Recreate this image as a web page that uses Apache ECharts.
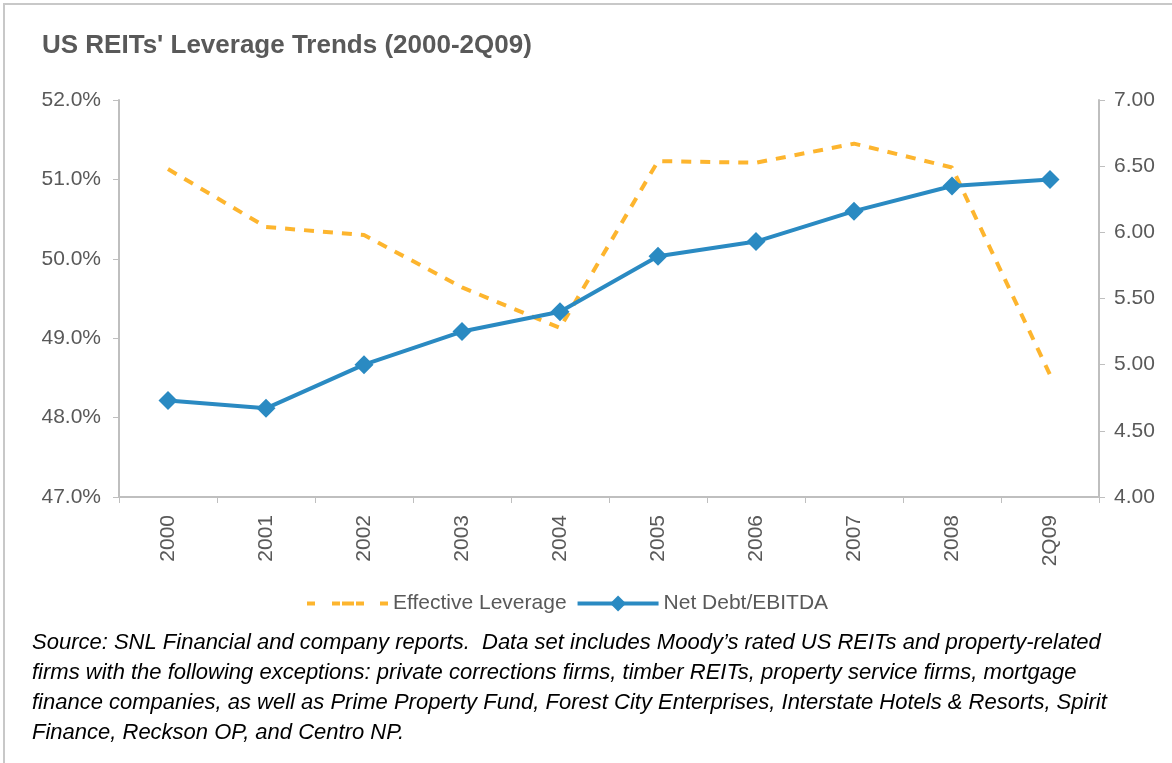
<!DOCTYPE html>
<html>
<head>
<meta charset="utf-8">
<script src="https://cdn.jsdelivr.net/npm/echarts@6/dist/echarts.min.js"></script>
<style>
  html, body { margin: 0; padding: 0; background: #fff; }
  #chart { width: 1172px; height: 763px; }
</style>
</head>
<body>
<div id="chart"></div>
<script>
// Data
const years = ['2000', '2001', '2002', '2003', '2004', '2005', '2006', '2007', '2008', '2Q09'];
const effectiveLeverage = [51.13, 50.40, 50.30, 49.64, 49.13, 51.23, 51.21, 51.45, 51.15, 48.54];
const netDebtEbitda = [4.73, 4.67, 5.00, 5.25, 5.40, 5.82, 5.93, 6.16, 6.35, 6.40];

const sourceLines = [
  'Source: SNL Financial and company reports.  Data set includes Moody\u2019s rated US REITs and property-related',
  'firms with the following exceptions: private corrections firms, timber REITs, property service firms, mortgage',
  'finance companies, as well as Prime Property Fund, Forest City Enterprises, Interstate Hotels & Resorts, Spirit',
  'Finance, Reckson OP, and Centro NP.'
];

const textColor = '#595959';
const axisColor = '#BFBFBF';
const orange = '#FDB52E';
const blue = '#2A8AC2';
const font = 'Liberation Sans, Arial, sans-serif';

// dashed legend swatch, same look as the excel one
const dashIcon = 'path://M0,0h8v4h-8zM25,0h8v4h-8zM35,0h12v4h-12zM49,0h8v4h-8zM73,0h8v4h-8z';

const chart = echarts.init(document.getElementById('chart'));

const axisCommon = {
  axisLine: { show: true, lineStyle: { color: axisColor, width: 2 } },
  axisTick: { show: true, length: 6, lineStyle: { color: axisColor, width: 1 } },
  splitLine: { show: false },
  axisLabel: { color: textColor, fontSize: 21, fontFamily: font }
};

chart.setOption({
  animation: false,
  backgroundColor: '#fff',
  graphic: [
    {
      type: 'polyline',
      shape: { points: [[4, 763], [4, 4], [1172, 4]] },
      style: { stroke: '#C8C8C8', lineWidth: 2, fill: null }
    },
    {
      type: 'text', left: 42, top: 33,
      style: { text: "US REITs' Leverage Trends (2000-2Q09)", fill: textColor,
        font: 'bold 26px ' + font }
    }
  ].concat(sourceLines.map((line, i) => ({
    type: 'text', left: 32, top: 632 + i * 30,
    style: { text: line, fill: '#000', font: 'italic 22px ' + font }
  }))),
  legend: {
    top: 588,
    left: 302,
    itemWidth: 81,
    itemHeight: 20,
    itemGap: 9,
    symbolKeepAspect: true,
    textStyle: { color: textColor, fontSize: 21, fontFamily: font },
    data: [
      { name: 'Effective Leverage', icon: dashIcon, itemStyle: { color: orange } },
      { name: 'Net Debt/EBITDA', lineStyle: { width: 4, color: blue } }
    ]
  },
  grid: { left: 119, right: 73, top: 100, bottom: 266, containLabel: false },
  xAxis: Object.assign({}, axisCommon, {
    type: 'category',
    data: years,
    boundaryGap: true,
    axisLabel: Object.assign({}, axisCommon.axisLabel, { rotate: 90, margin: 18 })
  }),
  yAxis: [
    Object.assign({}, axisCommon, {
      type: 'value', min: 47, max: 52, interval: 1, position: 'left',
      axisLabel: Object.assign({}, axisCommon.axisLabel, {
        margin: 18,
        formatter: v => v.toFixed(1) + '%'
      })
    }),
    Object.assign({}, axisCommon, {
      type: 'value', min: 4, max: 7, interval: 0.5, position: 'right',
      axisLabel: Object.assign({}, axisCommon.axisLabel, {
        margin: 15,
        formatter: v => v.toFixed(2)
      })
    })
  ],
  series: [
    {
      name: 'Effective Leverage',
      type: 'line',
      yAxisIndex: 0,
      data: effectiveLeverage,
      symbol: 'none',
      itemStyle: { color: orange },
      lineStyle: { color: orange, width: 4, type: [10, 9], cap: 'butt' }
    },
    {
      name: 'Net Debt/EBITDA',
      type: 'line',
      yAxisIndex: 1,
      data: netDebtEbitda,
      symbol: 'diamond',
      symbolSize: 19,
      itemStyle: { color: blue },
      lineStyle: { color: blue, width: 4 }
    }
  ]
});
</script>
</body>
</html>
